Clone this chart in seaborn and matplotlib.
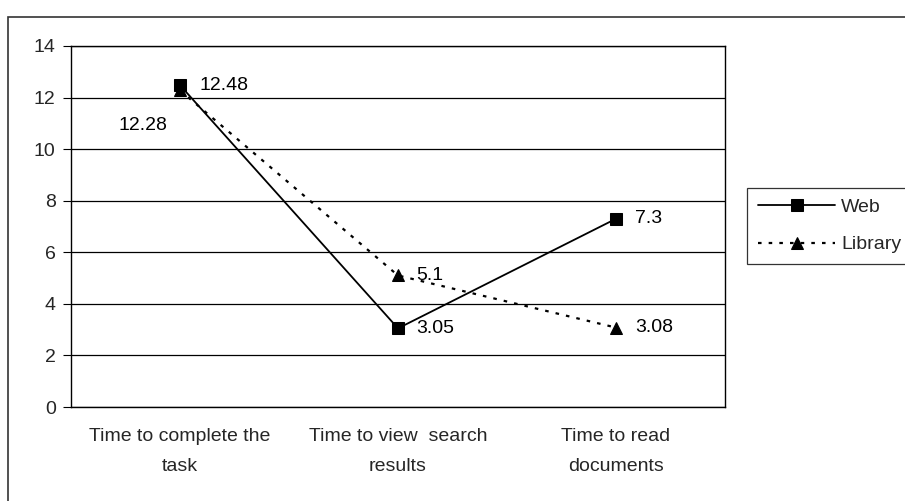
import matplotlib
matplotlib.use("Agg")
import matplotlib.pyplot as plt
import seaborn as sns
import pandas as pd
from matplotlib.patches import Rectangle

categories = ["Time to complete the\ntask", "Time to view  search\nresults", "Time to read\ndocuments"]
web = [12.48, 3.05, 7.3]
library = [12.28, 5.1, 3.08]
yticks = [0, 2, 4, 6, 8, 10, 12, 14]

sns.set_theme(style="white")
plt.rcParams["font.family"] = ["Liberation Sans", "DejaVu Sans"]
FS = 14

fig = plt.figure(figsize=(9.05, 5.01), dpi=100)
ax = fig.add_axes([71/905, 1-407/501, (725-71)/905, (407-46)/501])

x = list(range(len(categories)))
df = pd.DataFrame({"x": x * 2, "y": web + library,
                   "series": ["Web"] * 3 + ["Library"] * 3})

sns.lineplot(data=df[df.series == "Web"], x="x", y="y", ax=ax, color="black",
             linewidth=1.3, marker="s", markersize=8, markeredgecolor="black",
             label="Web", linestyle="-")
sns.lineplot(data=df[df.series == "Library"], x="x", y="y", ax=ax, color="black",
             linewidth=1.6, marker="^", markersize=8, markeredgecolor="black",
             label="Library", linestyle=(0, (1.6, 3.2)))

ax.set_xlim(-0.5, 2.5)
ax.set_ylim(0, 14)
ax.set_yticks(yticks)
ax.set_yticklabels([str(v) for v in yticks], fontsize=FS)
ax.yaxis.grid(True, color="black", linewidth=0.9)
ax.set_axisbelow(True)
ax.set_xticks([-0.5, 0.5, 1.5, 2.5])
ax.set_xticklabels([])
ax.set_xticks(x, minor=True)
ax.set_xticklabels(categories, minor=True, fontsize=FS)
ax.tick_params(axis="x", which="major", direction="out", length=6, width=0.8, color="black")
ax.tick_params(axis="x", which="minor", length=0, pad=15)
ax.tick_params(axis="y", direction="out", length=6, width=0.8, color="black", left=True, pad=5)
ax.set_xlabel("")
ax.set_ylabel("")
for s in ax.spines.values():
    s.set_color("black")
    s.set_linewidth(1.0)
for lab in ax.get_xticklabels(minor=True):
    lab.set_linespacing(2.0)

# data labels: (dx, dy, ha)
offsets_web = [(14, 0, "left"), (13, 0, "left"), (14, 0, "left")]
offsets_lib = [(-9, -25, "right"), (13, 0, "left"), (14, 0, "left")]
for i, v in enumerate(web):
    dx, dy, ha = offsets_web[i]
    ax.annotate(f"{v:g}", (x[i], v), xytext=(dx, dy), textcoords="offset points",
                ha=ha, va="center", fontsize=FS, color="black")
for i, v in enumerate(library):
    dx, dy, ha = offsets_lib[i]
    ax.annotate(f"{v:g}", (x[i], v), xytext=(dx, dy), textcoords="offset points",
                ha=ha, va="center", fontsize=FS, color="black")

leg = ax.legend(loc="upper left", bbox_to_anchor=(747/905, 1-188/501),
                bbox_transform=fig.transFigure, frameon=True, fancybox=False,
                fontsize=FS, handlelength=4.0, handletextpad=0.3,
                borderpad=0.55, labelspacing=1.0, borderaxespad=0)
leg.get_frame().set_edgecolor("black")
leg.get_frame().set_linewidth(0.9)

fig.patches.append(Rectangle((8/905, -0.1), 1.2, 1-17/501+0.1, transform=fig.transFigure,
                             fill=False, edgecolor="#333333", linewidth=1.2))

fig.savefig("out.png", dpi=100)
